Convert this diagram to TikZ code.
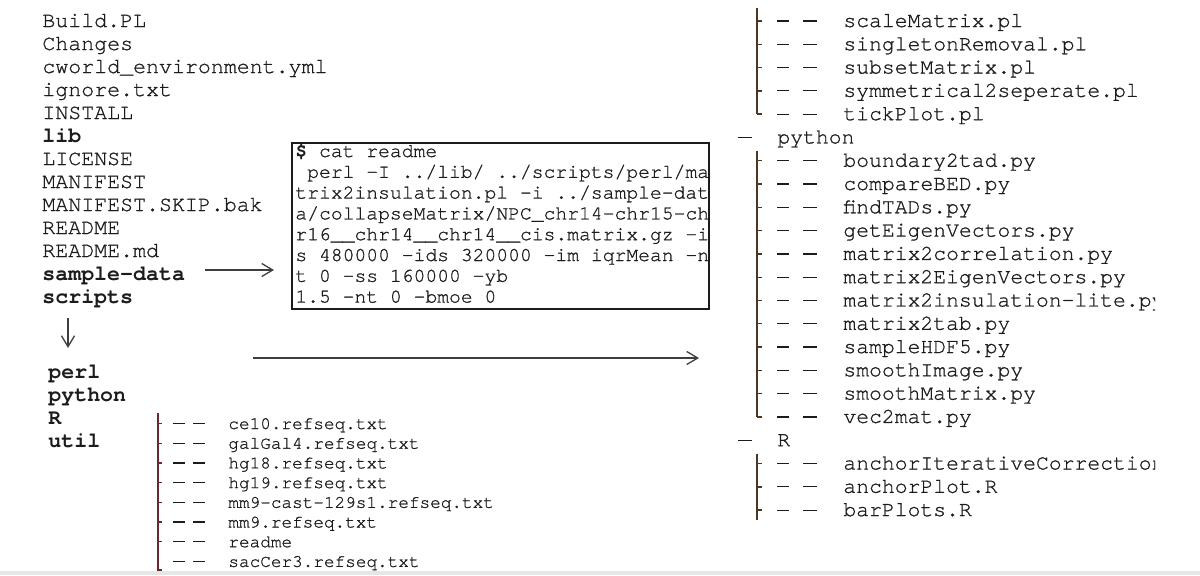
\documentclass[tikz,border=0pt]{standalone}
\usepackage{fontspec}
\setmainfont{TeX Gyre Cursor}[UprightFeatures={FakeBold=0.9}]
\usetikzlibrary{arrows.meta}
\definecolor{ink}{RGB}{28,28,28}
\definecolor{treeA}{RGB}{75,55,35}
\definecolor{treeB}{RGB}{105,40,45}
\definecolor{band}{RGB}{230,230,230}
\tikzset{
  lefttxt/.style={anchor=base west, inner sep=0pt, text=ink, font=\fontsize{10.8pt}{12pt}\selectfont},
  leftbold/.style={lefttxt, font=\fontsize{10.8pt}{12pt}\selectfont\bfseries},
  boxtxt/.style={anchor=base west, inner sep=0pt, text=ink, font=\fontsize{9.85pt}{11pt}\selectfont},
  smalltxt/.style={anchor=base west, inner sep=0pt, text=ink, font=\fontsize{8.85pt}{10pt}\selectfont},
  righttxt/.style={anchor=base west, inner sep=0pt, text=ink, font=\fontsize{10.7pt}{12pt}\selectfont},
  arr/.style={draw=ink!85, line width=0.65pt, -{Straight Barb[length=5.5pt,width=6.5pt]}},
  treeline/.style={line width=0.7pt},
  dashline/.style={draw=ink, line width=0.6pt},
}
\begin{document}
\begin{tikzpicture}[x=0.5pt,y=-0.5pt]
\useasboundingbox (0,0) rectangle (1200,575);
\fill[band] (0,571) rectangle (1200,575);

% left column
\foreach \t/\s [count=\k from 0] in {Build.PL/lefttxt, Changes/lefttxt, cworld\_environment.yml/lefttxt, ignore.txt/lefttxt, INSTALL/lefttxt, lib/leftbold, LICENSE/lefttxt, MANIFEST/lefttxt, MANIFEST.SKIP.bak/lefttxt, README/lefttxt, README.md/lefttxt, sample-data/leftbold, scripts/leftbold}
  \node[\s] (L\k) at (42,{27+23*\k}) {\t};

\foreach \t [count=\k from 0] in {perl, python, R, util}
  \node[leftbold] (S\k) at (48,{378+23.3*\k}) {\t};

% box
\node[draw=ink, line width=0.6pt, minimum width=208.5pt, minimum height=83pt, inner sep=0pt] (box) at (500.5,226) {};
\node[boxtxt] (b0) at (295,157) {{\bfseries\$} cat readme};
\node[boxtxt] (b1) at (295,{157+20.8}) {\ perl -I ../lib/ ../scripts/perl/ma};
\node[boxtxt] (b2) at (295,{157+20.8*2}) {trix2insulation.pl -i ../sample-dat};
\node[boxtxt] (b3) at (295,{157+20.8*3}) {a/collapseMatrix/NPC\_chr14-chr15-ch};
\node[boxtxt] (b4) at (295,{157+20.8*4}) {r16\_\_chr14\_\_chr14\_\_cis.matrix.gz -i};
\node[boxtxt] (b5) at (295,{157+20.8*5}) {s 480000 -ids 320000 -im iqrMean -n};
\node[boxtxt] (b6) at (295,{157+20.8*6}) {t 0 -ss 160000 -yb};
\node[boxtxt] (b7) at (295,{157+20.8*7}) {1.5 -nt 0 -bmoe 0};

% arrows
\coordinate (a1s) at (205,270);
\coordinate (a1e) at (274,270);
\draw[arr] (a1s) -- (a1e);
\coordinate (a2s) at (68,318);
\coordinate (a2e) at (68,348);
\draw[arr] (a2s) -- (a2e);
\coordinate (a3s) at (253,358);
\coordinate (a3e) at (699,358);
\draw[arr] (a3s) -- (a3e);

% bottom util list
\foreach \t [count=\k from 0] in {ce10.refseq.txt, galGal4.refseq.txt, hg18.refseq.txt, hg19.refseq.txt, mm9-cast-129s1.refseq.txt, mm9.refseq.txt, readme, sacCer3.refseq.txt}
  \node[smalltxt] (U\k) at (228,{429+19.7*\k}) {\t};
\draw[treeline, draw=treeB] (158,413) -- (158,570) -- (162,570);
\foreach \k in {0,...,7} {
  \pgfmathsetmacro{\yy}{429+19.7*\k-5.5}
  \ifnum\k<7 \draw[treeline, draw=treeB] (158,\yy) -- (162,\yy); \fi
  \draw[dashline] (173,\yy) -- (185,\yy);
  \draw[dashline] (193,\yy) -- (205,\yy);
}

% right column
\begin{scope}
\clip (0,0) rectangle (1155,575);
\foreach \t [count=\k from 0] in {scaleMatrix.pl, singletonRemoval.pl, subsetMatrix.pl, symmetrical2seperate.pl, tickPlot.pl}
  \node[righttxt] (P\k) at (843,{27+23.29*\k}) {\t};
\node[righttxt] (py) at (777,{27+23.29*5}) {python};
\foreach \t [count=\k from 6] in {boundary2tad.py, compareBED.py, findTADs.py, getEigenVectors.py, matrix2correlation.py, matrix2EigenVectors.py, matrix2insulation-lite.py, matrix2tab.py, sampleHDF5.py, smoothImage.py, smoothMatrix.py, vec2mat.py}
  \node[righttxt] (Y\k) at (843,{27+23.29*\k}) {\t};
\node[righttxt] (rr) at (777,{27+23.29*18}) {R};
\foreach \t [count=\k from 19] in {anchorIterativeCorrection.R, anchorPlot.R, barPlots.R}
  \node[righttxt] (Q\k) at (843,{27+23.29*\k}) {\t};
\end{scope}

% right tree marks
\foreach \k in {0,...,4,6,7,...,17,19,20,21} {
  \pgfmathsetmacro{\yy}{27+23.29*\k-6}
  \draw[treeline, draw=treeA] (757,\yy) -- (762,\yy);
  \draw[dashline] (777,\yy) -- (789,\yy);
  \draw[dashline] (803,\yy) -- (817,\yy);
}
\draw[treeline, draw=treeA] (757,8) -- (757,{27+23.29*4-6});
\draw[treeline, draw=treeA] (757,{27+23.29*6-16}) -- (757,{27+23.29*17-6});
\draw[treeline, draw=treeA] (757,{27+23.29*19-16}) -- (757,{27+23.29*21+4});
\draw[dashline] (738,{27+23.29*5-6}) -- (752,{27+23.29*5-6});
\draw[dashline] (738,{27+23.29*18-6}) -- (752,{27+23.29*18-6});
\end{tikzpicture}
\end{document}
